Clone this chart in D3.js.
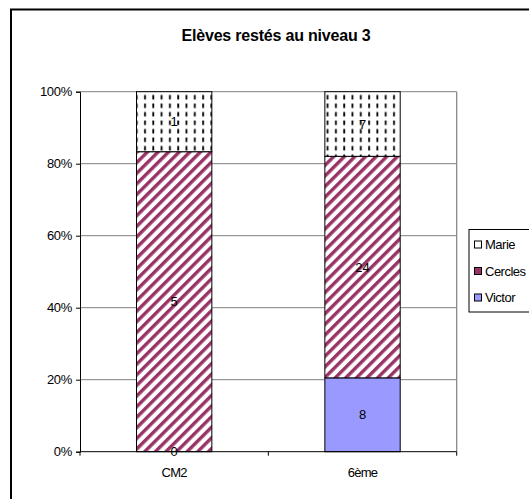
<!DOCTYPE html>
<html>
<head>
<meta charset="utf-8">
<script src="https://cdn.jsdelivr.net/npm/d3@7"></script>
<style>
  html, body { margin: 0; padding: 0; background: #fff; }
  svg { display: block; }
  text { font-family: "Liberation Sans", Arial, sans-serif; }
</style>
</head>
<body>
<svg id="chart" width="529" height="499"></svg>
<script>
const title = "Elèves restés au niveau 3";
const categories = ["CM2", "6ème"];
const seriesNames = ["Victor", "Cercles", "Marie"];
const victor = [0, 8];
const cercles = [5, 24];
const marie = [1, 7];
const yTicks = [0, 0.2, 0.4, 0.6, 0.8, 1.0];
const legendOrder = ["Marie", "Cercles", "Victor"];

const svg = d3.select("#chart");
const defs = svg.append("defs");

// patterns
const pM = defs.append("pattern").attr("id", "pat-marie")
  .attr("patternUnits", "userSpaceOnUse").attr("width", 8.3).attr("height", 8.5);
pM.append("rect").attr("width", 8.3).attr("height", 8.5).attr("fill", "#fff");
pM.append("rect").attr("x", 3).attr("y", 1.5).attr("width", 1.8).attr("height", 4.5).attr("fill", "#000");

const pC = defs.append("pattern").attr("id", "pat-cercles")
  .attr("patternUnits", "userSpaceOnUse").attr("width", 7.5).attr("height", 20)
  .attr("patternTransform", "rotate(45)");
pC.append("rect").attr("width", 7.5).attr("height", 20).attr("fill", "#fff");
pC.append("rect").attr("x", 0).attr("width", 3.4).attr("height", 20).attr("fill", "#993366");

const fills = { Victor: "#9999ff", Cercles: "url(#pat-cercles)", Marie: "url(#pat-marie)" };

// outer border
svg.append("rect").attr("x", 11).attr("y", 9.5).attr("width", 700).attr("height", 700)
  .attr("fill", "none").attr("stroke", "#000").attr("stroke-width", 2);

const plot = { left: 80, top: 91.7, right: 456.7, bottom: 451.7 };

const x = d3.scaleBand().domain(categories).range([plot.left, plot.right]).paddingInner(0.6).paddingOuter(0.3);
const y = d3.scaleLinear().domain([0, 1]).range([plot.bottom, plot.top]);

// gridlines
svg.append("g").selectAll("line").data(yTicks.filter(d => d > 0)).join("line")
  .attr("x1", plot.left).attr("x2", plot.right)
  .attr("y1", d => y(d)).attr("y2", d => y(d))
  .attr("stroke", "#808080").attr("stroke-width", 1);
// right border of plot area
svg.append("line").attr("x1", plot.right).attr("x2", plot.right)
  .attr("y1", plot.top).attr("y2", plot.bottom)
  .attr("stroke", "#808080").attr("stroke-width", 1.2);

// stacked data
const table = categories.map((c, i) => ({ cat: c, Victor: victor[i], Cercles: cercles[i], Marie: marie[i] }));
const stack = d3.stack().keys(seriesNames).offset(d3.stackOffsetExpand);
const layers = stack(table);

const bw = x.bandwidth();
layers.forEach(layer => {
  const g = svg.append("g");
  g.selectAll("rect").data(layer).join("rect")
    .attr("x", d => x(d.data.cat))
    .attr("y", d => y(d[1]))
    .attr("width", bw)
    .attr("height", d => y(d[0]) - y(d[1]))
    .attr("fill", fills[layer.key])
    .attr("stroke", "#000").attr("stroke-width", 1);
});
layers.forEach(layer => {
  svg.append("g").selectAll("text").data(layer).join("text")
    .attr("x", d => x(d.data.cat) + bw / 2)
    .attr("y", d => (y(d[0]) + y(d[1])) / 2)
    .attr("text-anchor", "middle").attr("dominant-baseline", "central")
    .attr("font-size", 13).attr("fill", "#000")
    .text(d => d.data[layer.key]);
});

// y axis
const yAxis = d3.axisLeft(y).tickValues(yTicks).tickFormat(d3.format(".0%")).tickSize(4).tickPadding(4);
const gy = svg.append("g").attr("transform", `translate(${plot.left},0)`).call(yAxis);
gy.select(".domain").attr("stroke", "#000");
gy.selectAll(".tick line").attr("stroke", "#000");
gy.selectAll(".tick text").attr("font-size", 13).attr("fill", "#000")
  .style("font-family", "'Liberation Sans', Arial, sans-serif").style("letter-spacing", "-0.3px");

// x axis
const xAxis = d3.axisBottom(x).tickSize(0).tickPadding(16);
const gx = svg.append("g").attr("transform", `translate(0,${plot.bottom})`).call(xAxis);
gx.select(".domain").remove();
gx.append("line").attr("x1", plot.left).attr("x2", plot.right).attr("stroke", "#000");
const boundaries = [plot.left, (plot.left + plot.right) / 2, plot.right];
gx.selectAll(".bt").data(boundaries).join("line").attr("class", "bt")
  .attr("x1", d => d).attr("x2", d => d).attr("y1", 0).attr("y2", 4).attr("stroke", "#000");
gx.selectAll(".tick text").attr("font-size", 13).attr("fill", "#000")
  .style("font-family", "'Liberation Sans', Arial, sans-serif").style("letter-spacing", "-0.7px");

// title
svg.append("text").attr("x", 276).attr("y", 40.5).attr("text-anchor", "middle")
  .attr("font-size", 16).attr("font-weight", "bold").style("letter-spacing", "-0.2px").text(title);

// legend
const lg = svg.append("g");
lg.append("rect").attr("x", 469).attr("y", 229.5).attr("width", 100).attr("height", 82.5)
  .attr("fill", "#fff").attr("stroke", "#000").attr("stroke-width", 1);
const ly = d3.scalePoint().domain(legendOrder).range([244.5, 297.5]);
legendOrder.forEach(k => {
  lg.append("rect").attr("x", 474.5).attr("y", ly(k) - 3.5).attr("width", 7).attr("height", 7)
    .attr("fill", k === "Marie" ? "#fff" : (k === "Cercles" ? "#993366" : "#9999ff"))
    .attr("stroke", "#000").attr("stroke-width", 1);
  lg.append("text").attr("x", 485).attr("y", ly(k)).attr("dominant-baseline", "central")
    .attr("font-size", 13).style("letter-spacing", "-0.5px").text(k);
});
</script>
</body>
</html>
